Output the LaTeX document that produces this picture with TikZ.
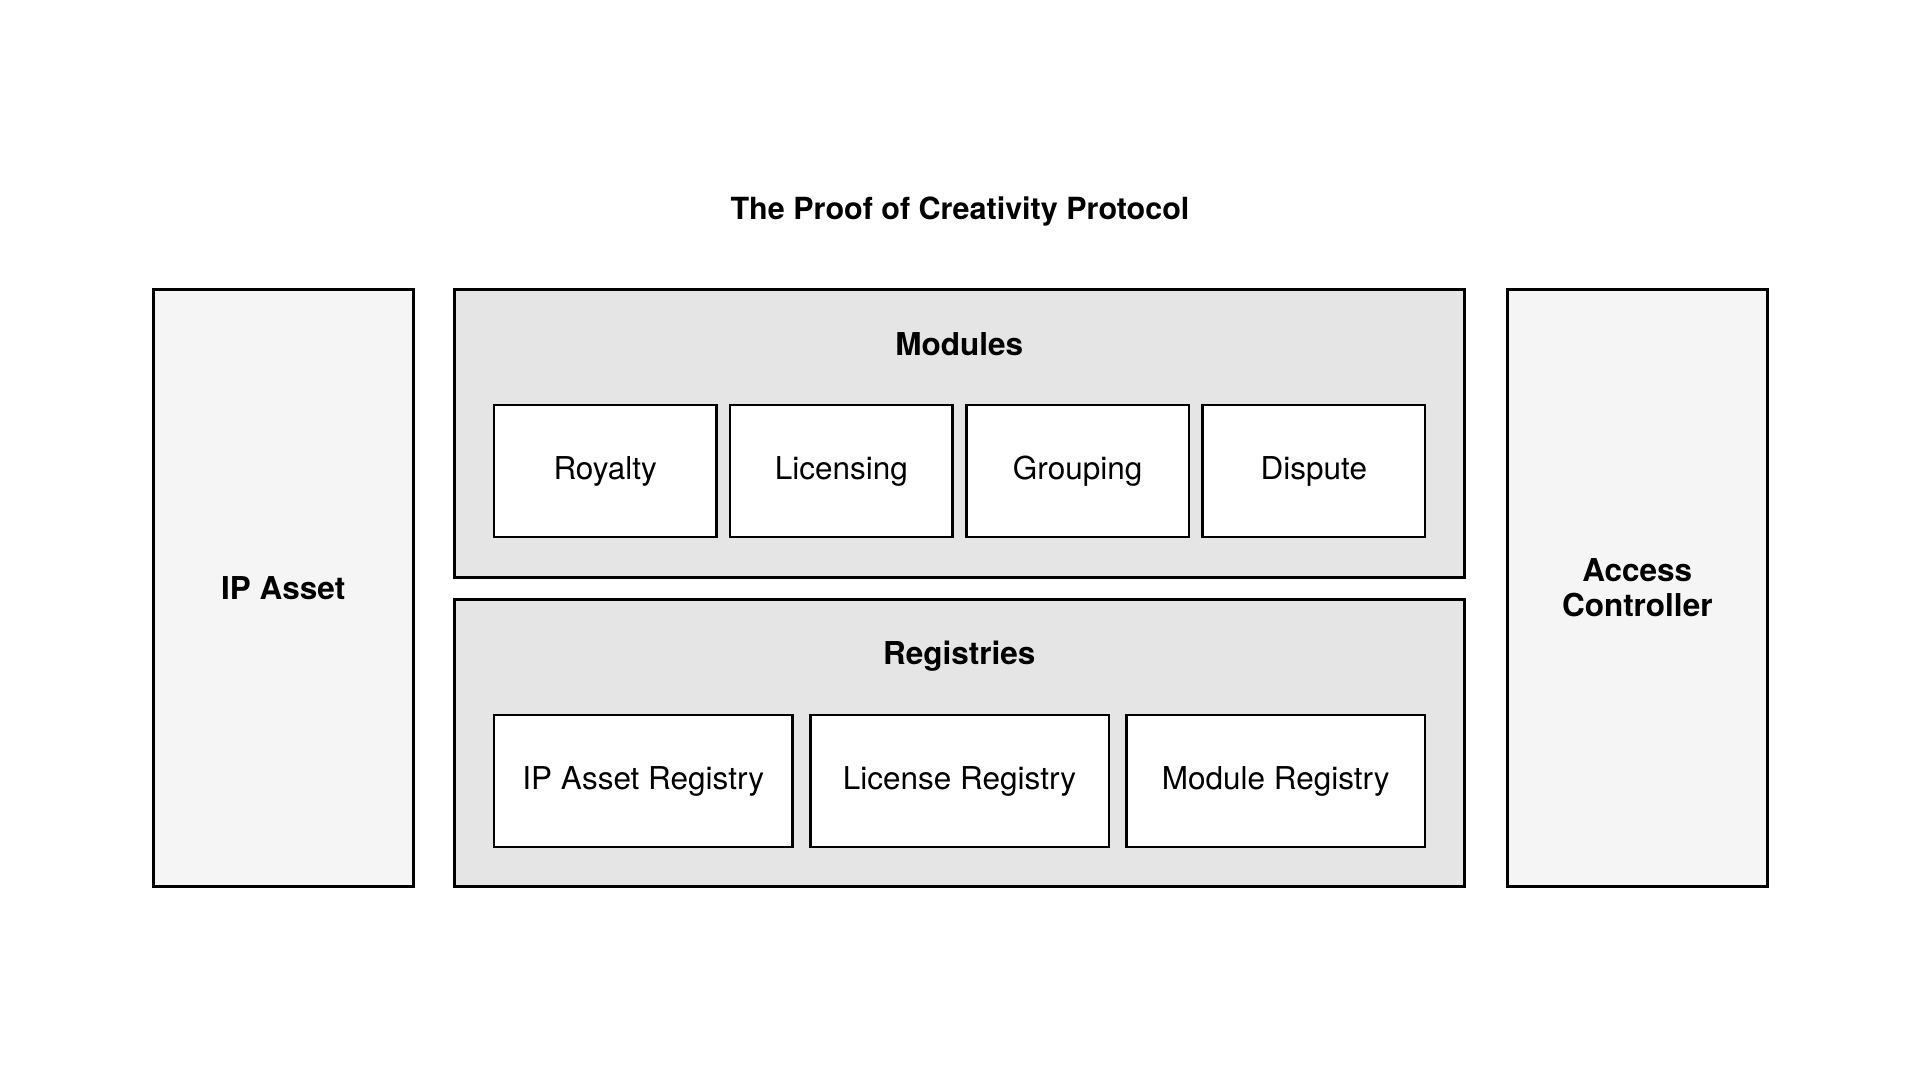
\documentclass[tikz,border=0pt]{standalone}
\usepackage{fontspec}
\setmainfont{TeX Gyre Heros}
\usetikzlibrary{positioning}

\definecolor{panelgray}{HTML}{F5F5F5}
\definecolor{groupgray}{HTML}{E5E5E5}

\begin{document}
\begin{tikzpicture}[x=1pt, y=-1pt,
  sidebox/.style={draw, line width=3pt, fill=panelgray, inner sep=0pt,
    minimum width=259.5pt, minimum height=597.5pt, align=center,
    font=\fontsize{31.5}{35.5}\selectfont\bfseries},
  groupbox/.style={draw, line width=3pt, fill=groupgray, inner sep=0pt,
    minimum width=1010.5pt},
  grouptitle/.style={font=\fontsize{31.5}{36}\selectfont\bfseries},
  modbox/.style={draw, line width=2.5pt, fill=white, inner sep=0pt,
    minimum width=222.5pt, minimum height=132pt,
    font=\fontsize{31.5}{36}\selectfont},
  regbox/.style={modbox, minimum width=298.5pt}]

  % Page
  \useasboundingbox (0,0) rectangle (1920,1080);

  % Title
  \node[font=\fontsize{30.5}{36}\selectfont\bfseries] (title) at (960, 211)
    {The Proof of Creativity Protocol};

  % Side panels
  \node[sidebox] (ipasset) at (283.25, 587.75) {IP Asset};
  \node[sidebox] (access) at (1637.25, 587.75) {Access\\Controller};

  % Modules group
  \node[groupbox, minimum height=288pt] (modules) at (959.25, 433) {};
  \node[grouptitle] (modtitle) at (959.25, 344) {Modules};
  \foreach \i/\lab in {0/Royalty, 1/Licensing, 2/Grouping, 3/Dispute} {
    \node[modbox] (mod\i) at (605.25 + 236.2*\i, 471) {\lab};
  }

  % Registries group
  \node[groupbox, minimum height=287.5pt] (registries) at (959.25, 742.75) {};
  \node[grouptitle] (regtitle) at (959.25, 656) {Registries};
  \foreach \i/\lab in {0/IP Asset Registry, 1/License Registry, 2/Module Registry} {
    \node[regbox] (reg\i) at (643.25 + 316.25*\i, 781) {\lab};
  }
\end{tikzpicture}
\end{document}
